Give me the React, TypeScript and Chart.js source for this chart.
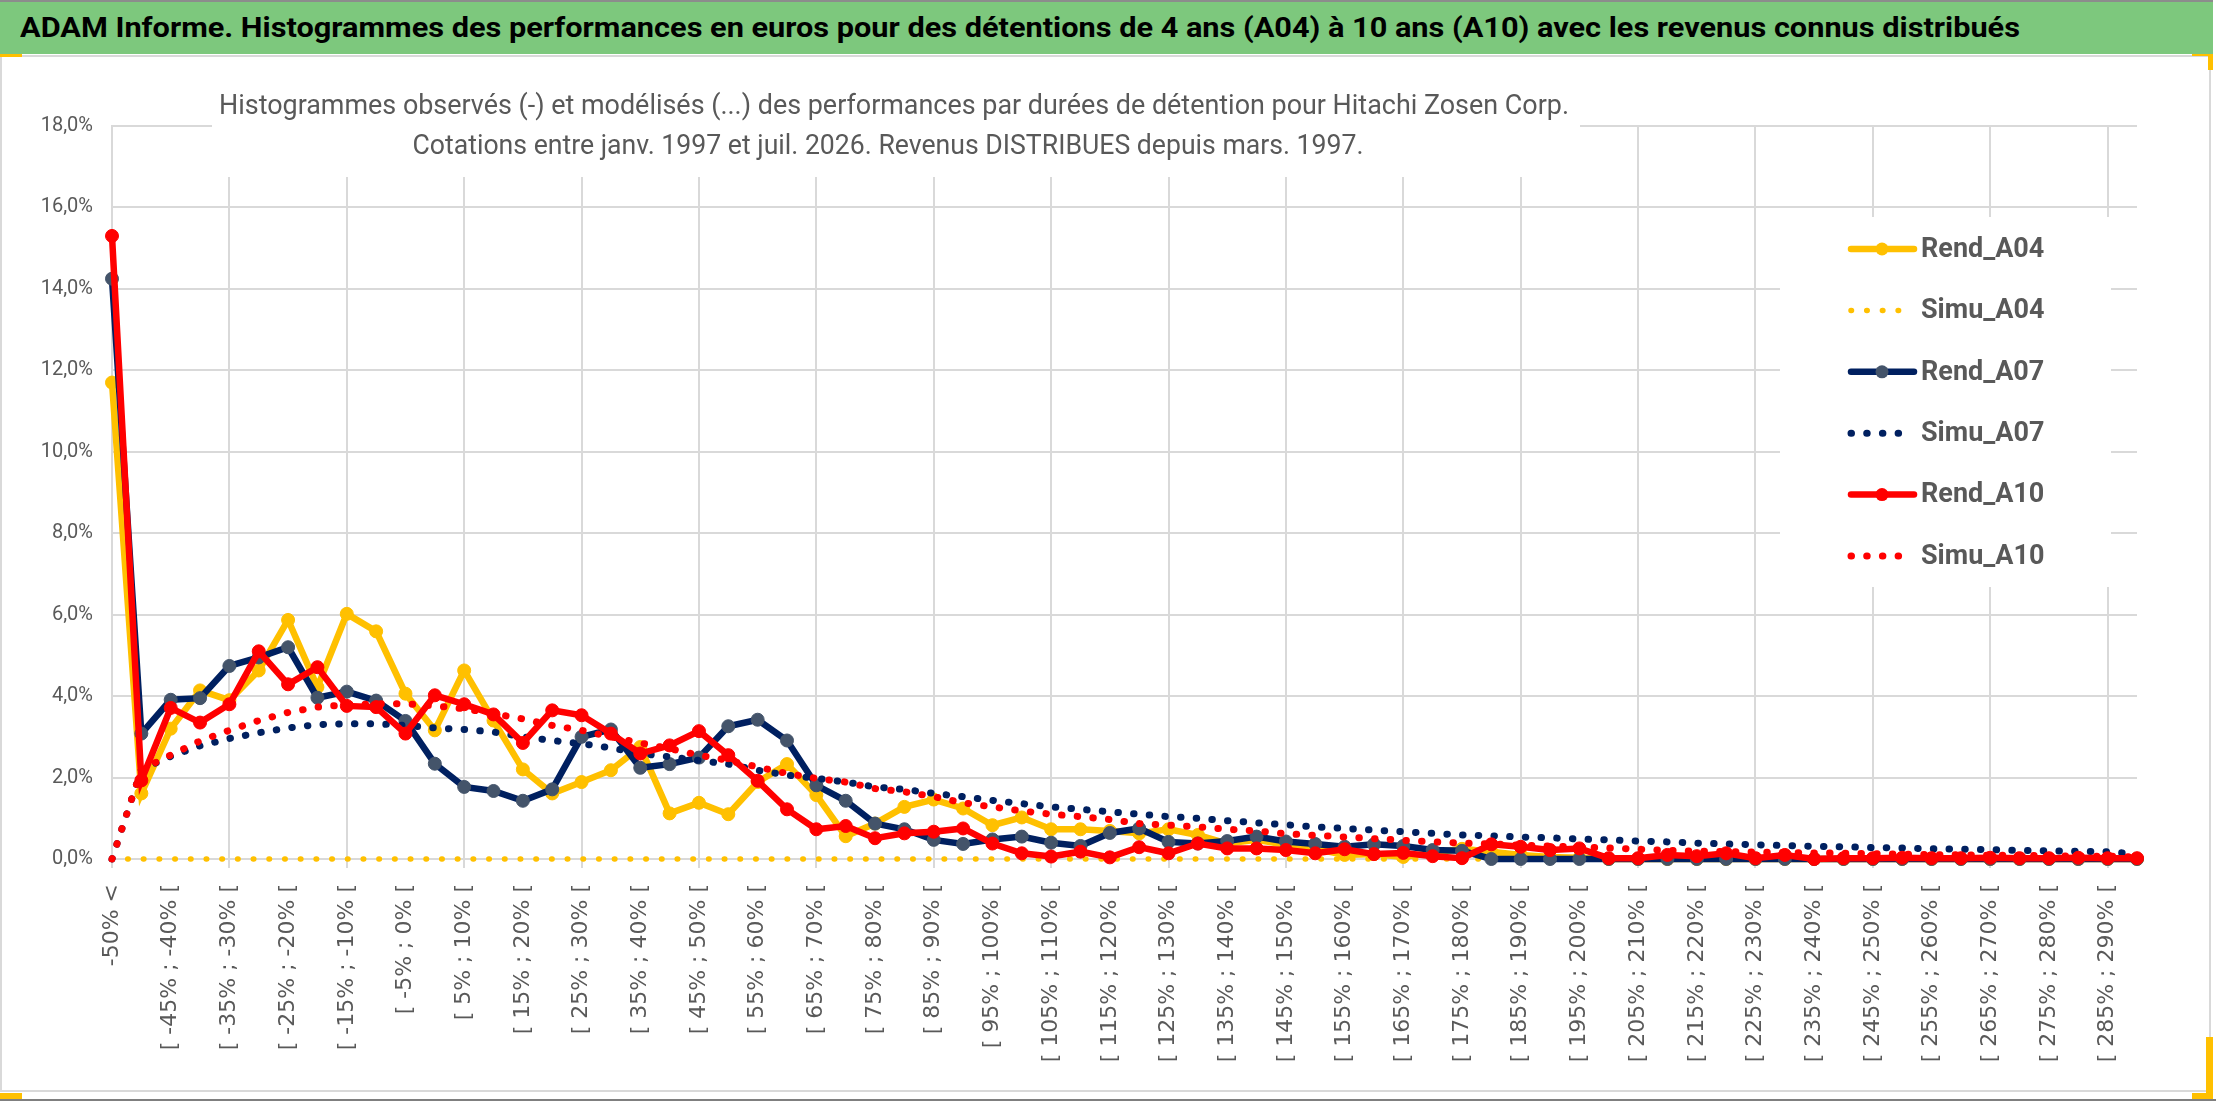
import { useEffect, useRef } from "react";
import { Chart, registerables } from "chart.js";

Chart.register(...registerables);

const W = 2216;
const H = 1102;
const SANS = 'Roboto, "Open Sans", sans-serif';

const categories = [
    "-50% <",
    "[ -50% ; -45% [", "[ -45% ; -40% [", "[ -40% ; -35% [", "[ -35% ; -30% [", "[ -30% ; -25% [",
    "[ -25% ; -20% [", "[ -20% ; -15% [", "[ -15% ; -10% [", "[ -10% ; -5% [", "[ -5% ; 0% [",
    "[ 0% ; 5% [", "[ 5% ; 10% [", "[ 10% ; 15% [", "[ 15% ; 20% [", "[ 20% ; 25% [",
    "[ 25% ; 30% [", "[ 30% ; 35% [", "[ 35% ; 40% [", "[ 40% ; 45% [", "[ 45% ; 50% [",
    "[ 50% ; 55% [", "[ 55% ; 60% [", "[ 60% ; 65% [", "[ 65% ; 70% [", "[ 70% ; 75% [",
    "[ 75% ; 80% [", "[ 80% ; 85% [", "[ 85% ; 90% [", "[ 90% ; 95% [", "[ 95% ; 100% [",
    "[ 100% ; 105% [", "[ 105% ; 110% [", "[ 110% ; 115% [", "[ 115% ; 120% [", "[ 120% ; 125% [",
    "[ 125% ; 130% [", "[ 130% ; 135% [", "[ 135% ; 140% [", "[ 140% ; 145% [", "[ 145% ; 150% [",
    "[ 150% ; 155% [", "[ 155% ; 160% [", "[ 160% ; 165% [", "[ 165% ; 170% [", "[ 170% ; 175% [",
    "[ 175% ; 180% [", "[ 180% ; 185% [", "[ 185% ; 190% [", "[ 190% ; 195% [", "[ 195% ; 200% [",
    "[ 200% ; 205% [", "[ 205% ; 210% [", "[ 210% ; 215% [", "[ 215% ; 220% [", "[ 220% ; 225% [",
    "[ 225% ; 230% [", "[ 230% ; 235% [", "[ 235% ; 240% [", "[ 240% ; 245% [", "[ 245% ; 250% [",
    "[ 250% ; 255% [", "[ 255% ; 260% [", "[ 260% ; 265% [", "[ 265% ; 270% [", "[ 270% ; 275% [",
    "[ 275% ; 280% [", "[ 280% ; 285% [", "[ 285% ; 290% [", "[ 290% ; 295% [",
];

// values in %
const rendA04 = [
    11.7, 1.61, 3.2, 4.14, 3.9, 4.63, 5.87, 4.22, 6.02, 5.59,
    4.06, 3.16, 4.63, 3.4, 2.2, 1.61, 1.89, 2.18, 2.75, 1.12,
    1.38, 1.1, 1.89, 2.33, 1.57, 0.56, 0.87, 1.28, 1.46, 1.24,
    0.83, 1.02, 0.73, 0.73, 0.69, 0.63, 0.73, 0.59, 0.38, 0.47,
    0.35, 0.25, 0.1, 0.12, 0.05, 0.15, 0.25, 0.18, 0.1, 0.05,
    0.03, 0, 0, 0, 0, 0, 0, 0, 0, 0,
    0, 0, 0, 0, 0, 0, 0, 0, 0, 0,
];
const simuA04 = [
    0, 0, 0, 0, 0, 0, 0, 0, 0, 0,
    0, 0, 0, 0, 0, 0, 0, 0, 0, 0,
    0, 0, 0, 0, 0, 0, 0, 0, 0, 0,
    0, 0, 0, 0, 0, 0, 0, 0, 0, 0,
    0, 0, 0, 0, 0, 0, 0, 0, 0, 0,
    0, 0, 0, 0, 0, 0, 0, 0, 0, 0,
    0, 0, 0, 0, 0, 0, 0, 0, 0, 0,
];
const rendA07 = [
    14.25, 3.08, 3.91, 3.95, 4.74, 4.95, 5.2, 3.96, 4.11, 3.89,
    3.39, 2.34, 1.77, 1.67, 1.43, 1.71, 3.0, 3.18, 2.24, 2.33,
    2.49, 3.26, 3.42, 2.91, 1.81, 1.43, 0.87, 0.73, 0.47, 0.37,
    0.48, 0.55, 0.4, 0.32, 0.64, 0.75, 0.42, 0.38, 0.44, 0.55,
    0.43, 0.37, 0.3, 0.36, 0.32, 0.22, 0.2, 0, 0, 0,
    0, 0, 0, 0, 0, 0, 0, 0, 0, 0,
    0, 0, 0, 0, 0, 0, 0, 0, 0, 0,
];
const simuA07 = [
    0, 2.2, 2.52, 2.78, 2.96, 3.1, 3.22, 3.3, 3.32, 3.32,
    3.28, 3.22, 3.18, 3.12, 3.0, 2.91, 2.83, 2.73, 2.59, 2.51,
    2.42, 2.33, 2.18, 2.06, 1.98, 1.89, 1.77, 1.71, 1.61, 1.53,
    1.44, 1.36, 1.28, 1.22, 1.16, 1.1, 1.04, 1.0, 0.94, 0.89,
    0.84, 0.79, 0.75, 0.71, 0.67, 0.63, 0.59, 0.57, 0.54, 0.52,
    0.49, 0.47, 0.44, 0.42, 0.39, 0.37, 0.35, 0.33, 0.31, 0.3,
    0.28, 0.27, 0.25, 0.24, 0.23, 0.21, 0.2, 0.19, 0.18, 0.12,
];
const rendA10 = [
    15.3, 1.93, 3.71, 3.35, 3.8, 5.1, 4.29, 4.71, 3.76, 3.73,
    3.08, 4.02, 3.8, 3.55, 2.85, 3.65, 3.53, 3.08, 2.59, 2.79,
    3.14, 2.55, 1.92, 1.22, 0.73, 0.81, 0.51, 0.63, 0.67, 0.75,
    0.38, 0.14, 0.06, 0.18, 0.04, 0.29, 0.14, 0.38, 0.26, 0.26,
    0.22, 0.14, 0.24, 0.12, 0.15, 0.07, 0.02, 0.36, 0.3, 0.22,
    0.26, 0.02, 0.02, 0.1, 0.07, 0.14, 0.02, 0.1, 0, 0.02,
    0.02, 0.03, 0.02, 0.02, 0.03, 0.02, 0.02, 0.03, 0.02, 0.02,
];
const simuA10 = [
    0, 2.2, 2.55, 2.9, 3.16, 3.4, 3.6, 3.73, 3.79, 3.81,
    3.81, 3.76, 3.69, 3.57, 3.44, 3.28, 3.16, 3.0, 2.85, 2.71,
    2.55, 2.42, 2.26, 2.1, 1.98, 1.89, 1.73, 1.65, 1.53, 1.38,
    1.28, 1.18, 1.1, 1.04, 0.97, 0.87, 0.83, 0.79, 0.73, 0.69,
    0.62, 0.58, 0.54, 0.5, 0.46, 0.42, 0.39, 0.37, 0.34, 0.32,
    0.29, 0.27, 0.24, 0.21, 0.19, 0.18, 0.17, 0.16, 0.15, 0.14,
    0.13, 0.12, 0.11, 0.1, 0.09, 0.09, 0.08, 0.07, 0.07, 0.05,
];

const yTicks = [0, 2, 4, 6, 8, 10, 12, 14, 16, 18];

const headerText = "ADAM Informe. Histogrammes des performances en euros pour des détentions de 4 ans (A04) à 10 ans (A10) avec les revenus connus distribués";
const titleLines = [
    "Histogrammes observés (-) et modélisés (...) des performances par durées de détention pour Hitachi Zosen Corp.",
    "Cotations entre janv. 1997 et juil. 2026. Revenus DISTRIBUES depuis mars. 1997.",
];

const YELLOW = "#FFC000";
const NAVY = "#002060";
const RED = "#FF0000";

function rend(label: string, data: number[], color: string, marker: string, order: number) {
    return {
        label,
        data,
        borderColor: color,
        backgroundColor: color,
        borderWidth: 6.5,
        pointRadius: 6.5,
        pointBackgroundColor: marker,
        pointBorderColor: marker,
        pointBorderWidth: 1,
        tension: 0,
        clip: false,
        order,
    };
}

function simu(label: string, data: number[], color: string, width: number, order: number) {
    return {
        label,
        data,
        borderColor: color,
        backgroundColor: color,
        borderWidth: width,
        borderDash: [0.5, 15.2],
        borderCapStyle: "round",
        pointRadius: 0,
        tension: 0,
        clip: false,
        order,
    };
}

// draws text centred on (cx, cy), squeezed to the given width
function fitText(ctx: CanvasRenderingContext2D, text: string, cx: number, cy: number, width: number) {
    const w = ctx.measureText(text).width;
    ctx.save();
    ctx.translate(cx, cy);
    ctx.scale(width / w, 1);
    ctx.textAlign = "center";
    ctx.textBaseline = "middle";
    ctx.fillText(text, 0, 0);
    ctx.restore();
}

const frame = {
    id: "frame",
    beforeDraw(chart: any) {
        const ctx = chart.ctx;
        ctx.save();
        ctx.fillStyle = "#FFFFFF";
        ctx.fillRect(0, 0, W, H);
        ctx.strokeStyle = "#D9D9D9";
        ctx.lineWidth = 2;
        ctx.strokeRect(1, 56, 2209, 1035);
        ctx.strokeStyle = "#7F7F7F";
        ctx.lineWidth = 2;
        ctx.beginPath();
        ctx.moveTo(0, 1100);
        ctx.lineTo(W, 1100);
        ctx.stroke();
        ctx.fillStyle = YELLOW;
        ctx.fillRect(0, 53, 22, 4);
        ctx.fillRect(2192, 52, 21, 4);
        ctx.fillRect(2208, 52, 5, 18);
        ctx.fillRect(0, 1093, 22, 6);
        ctx.fillRect(2192, 1093, 21, 6);
        ctx.fillRect(2206, 1037, 7, 62);
        ctx.restore();
    },
    beforeDatasetsDraw(chart: any) {
        const ctx = chart.ctx;
        ctx.save();
        // title box
        ctx.fillStyle = "#FFFFFF";
        ctx.fillRect(212, 85, 1368, 92);
        ctx.fillStyle = "#595959";
        ctx.font = `27px ${SANS}`;
        fitText(ctx, titleLines[0], 894, 107, 1350);
        fitText(ctx, titleLines[1], 888, 147, 951);
        // legend box
        ctx.fillStyle = "#FFFFFF";
        ctx.fillRect(1780, 217, 331, 370);
        chart.data.datasets.forEach((ds: any, i: number) => {
            const y = 249 + i * 61.4;
            ctx.save();
            ctx.strokeStyle = ds.borderColor;
            ctx.lineWidth = ds.borderWidth;
            ctx.lineCap = "round";
            ctx.setLineDash(ds.borderDash || []);
            ctx.beginPath();
            ctx.moveTo(1851, y);
            ctx.lineTo(ds.borderDash ? 1913 : 1914, y);
            ctx.stroke();
            ctx.setLineDash([]);
            if (ds.pointRadius > 0) {
                ctx.fillStyle = ds.pointBackgroundColor;
                ctx.beginPath();
                ctx.arc(1882, y, ds.pointRadius, 0, Math.PI * 2);
                ctx.fill();
            }
            ctx.fillStyle = "#595959";
            ctx.font = `bold 27px ${SANS}`;
            ctx.textAlign = "left";
            ctx.textBaseline = "middle";
            ctx.fillText(ds.label, 1921, y + 1);
            ctx.restore();
        });
        ctx.restore();
    },
};

export default function App() {
    const chartRef = useRef<HTMLCanvasElement>(null);
    const headRef = useRef<HTMLSpanElement>(null);

    useEffect(() => {
        const el = headRef.current;
        if (el) {
            el.style.transform = "none";
            el.style.transform = `scaleX(${2000 / el.offsetWidth})`;
        }
        const ctx = chartRef.current?.getContext("2d");
        if (!ctx) return;
        const chart = new Chart(ctx, {
            type: "line",
            data: {
                labels: categories,
                datasets: [
                    rend("Rend_A04", rendA04, YELLOW, YELLOW, 5),
                    simu("Simu_A04", simuA04, YELLOW, 5.5, 4),
                    rend("Rend_A07", rendA07, NAVY, "#44546A", 3),
                    simu("Simu_A07", simuA07, NAVY, 7, 2),
                    rend("Rend_A10", rendA10, RED, RED, 1),
                    simu("Simu_A10", simuA10, RED, 7, 0),
                ] as any,
            },
            options: {
                responsive: false,
                animation: false,
                devicePixelRatio: 1,
                layout: { padding: { top: 126, right: 79, left: 0, bottom: 0 } },
                plugins: {
                    legend: { display: false },
                    tooltip: { enabled: false },
                    title: { display: false },
                },
                scales: {
                    x: {
                        type: "category",
                        offset: false,
                        afterFit: (scale: any) => {
                            scale.height = H - 859;
                        },
                        grid: {
                            color: (c: any) => (c.index % 4 === 0 ? "#D9D9D9" : "rgba(0,0,0,0)"),
                            lineWidth: 2,
                            tickLength: 9,
                            drawTicks: true,
                        },
                        border: { color: "#D9D9D9", width: 2 },
                        ticks: {
                            autoSkip: false,
                            minRotation: 90,
                            maxRotation: 90,
                            padding: 16,
                            color: "#595959",
                            font: { family: '"DejaVu Sans", sans-serif', size: 22 },
                            callback: (_v: any, i: number) => (i % 2 === 0 ? categories[i] : ""),
                        },
                    },
                    y: {
                        min: 0,
                        max: 18,
                        afterFit: (scale: any) => {
                            scale.width = 112;
                        },
                        afterBuildTicks: (scale: any) => {
                            scale.ticks = yTicks.map((v) => ({ value: v }));
                        },
                        grid: { color: "#D9D9D9", lineWidth: 2, drawTicks: false },
                        border: { color: "#D9D9D9", width: 2 },
                        ticks: {
                            padding: 19,
                            color: "#595959",
                            font: { family: SANS, size: 20 },
                            callback: (v: any) => `${Number(v).toFixed(1).replace(".", ",")}%`,
                        },
                    },
                },
            } as any,
            plugins: [frame],
        });
        return () => {
            chart.destroy();
        };
    }, []);

    return (
        <div style={{ position: "absolute", left: 0, top: 0, width: W, height: H, overflow: "hidden", background: "#fff" }}>
            <canvas ref={chartRef} width={W} height={H} style={{ position: "absolute", left: 0, top: 0, width: W, height: H }} />
            <div
                style={{
                    position: "absolute",
                    left: 0,
                    top: 0,
                    width: 2213,
                    height: 52,
                    background: "#7DC87D",
                    borderTop: "2px solid #8C8C8C",
                    overflow: "hidden",
                }}
            >
                <span
                    ref={headRef}
                    style={{
                        position: "absolute",
                        left: 20,
                        top: 0,
                        lineHeight: "52px",
                        whiteSpace: "nowrap",
                        display: "inline-block",
                        transformOrigin: "0 50%",
                        fontFamily: SANS,
                        fontWeight: "bold",
                        fontSize: 28,
                        color: "#000",
                    }}
                >
                    {headerText}
                </span>
            </div>
        </div>
    );
}
